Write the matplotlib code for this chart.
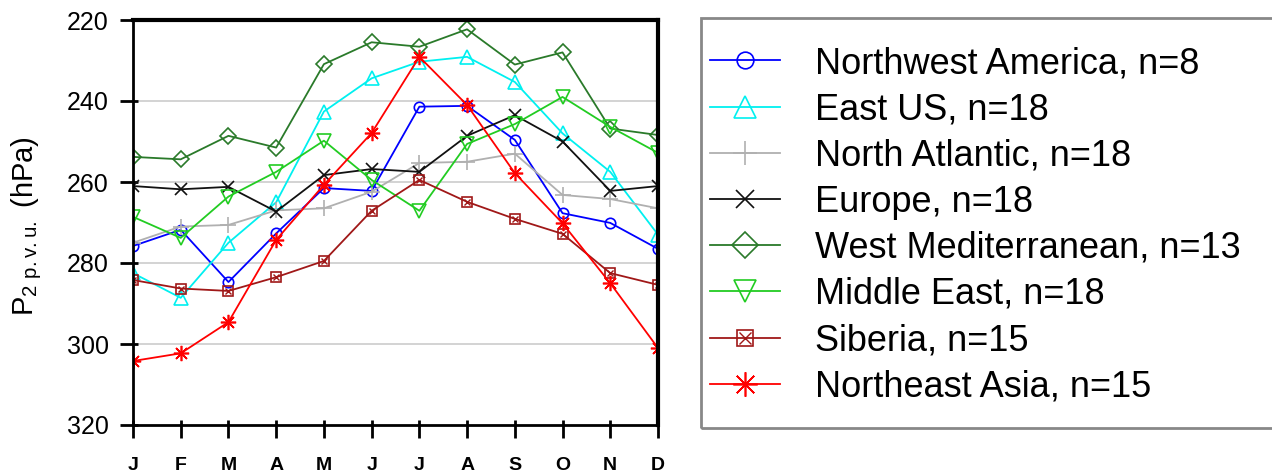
import matplotlib
matplotlib.use("Agg")
import matplotlib.pyplot as plt
from matplotlib.patches import Rectangle
from matplotlib.legend_handler import HandlerTuple

plt.rcParams["font.family"] = ["Liberation Sans", "DejaVu Sans"]
plt.rcParams["mathtext.default"] = "regular"

months = ["J", "F", "M", "A", "M", "J", "J", "A", "S", "O", "N", "D"]

nw_america = [275.8, 271.8, 284.7, 272.7, 261.5, 262.2, 241.4, 241.2, 249.6, 267.7, 270.1, 276.5]
east_us = [282.5, 288.6, 275.0, 265.0, 242.6, 234.4, 230.3, 229.1, 235.3, 248.0, 257.5, 273.0]
north_atlantic = [275.0, 271.0, 270.6, 267.0, 266.5, 262.4, 255.3, 255.0, 253.0, 263.2, 264.2, 266.5]
europe = [261.0, 261.8, 261.2, 267.3, 258.3, 256.8, 257.5, 248.6, 243.5, 250.0, 262.2, 261.0]
west_med = [253.8, 254.4, 248.6, 251.5, 230.9, 225.5, 226.6, 222.3, 231.0, 228.0, 246.8, 248.4]
middle_east = [268.6, 273.8, 263.6, 257.5, 249.8, 259.5, 267.1, 250.6, 245.7, 239.0, 246.4, 252.8]
siberia = [284.2, 286.3, 286.9, 283.5, 279.5, 267.1, 259.5, 264.9, 269.1, 272.8, 282.5, 285.4]
ne_asia = [304.2, 302.3, 294.6, 274.3, 260.7, 247.9, 229.1, 241.0, 257.8, 270.2, 285.0, 301.0]

labels = ["Northwest America, n=8", "East US, n=18", "North Atlantic, n=18",
          "Europe, n=18", "West Mediterranean, n=13", "Middle East, n=18",
          "Siberia, n=15", "Northeast Asia, n=15"]

fig = plt.figure(figsize=(12.72, 4.74), dpi=100)
ax = fig.add_axes([133 / 1272, 49 / 474, 525 / 1272, 405 / 474])
x = list(range(len(months)))

for yv in [240, 260, 280, 300]:
    ax.axhline(yv, color="#d0d0d0", lw=1.3, zorder=0)

kw = dict(lw=1.3, mfc="none", mew=1.2)
h = []
h.append(ax.plot(x, nw_america, color="#0000ff", marker="o", ms=7.5, **kw)[0])
h.append(ax.plot(x, east_us, color="#00f0f0", marker="^", ms=9.5, **kw)[0])
h.append(ax.plot(x, north_atlantic, color="#b0b0b0", marker="+", ms=11, **kw)[0])
h.append(ax.plot(x, europe, color="#111111", marker="x", ms=8.5, **kw)[0])
h.append(ax.plot(x, west_med, color="#2a7a2a", marker="D", ms=8, **kw)[0])
h.append(ax.plot(x, middle_east, color="#22cc22", marker="v", ms=9.5, **kw)[0])
sib_line = ax.plot(x, siberia, color="#a01818", marker="s", ms=7.5, **kw)[0]
sib_x = ax.plot(x, siberia, color="#a01818", marker="x", ls="none", ms=5, mew=1.0)[0]
h.append((sib_line, sib_x))
h.append(ax.plot(x, ne_asia, color="#ff0000", marker=(8, 2, 0), ms=11, **kw)[0])

ax.set_xlim(0, 11)
ax.set_ylim(320, 220)
ax.set_yticks([220, 240, 260, 280, 300, 320])
ax.set_yticks([220, 240, 260, 280, 300, 320], minor=True)
ax.yaxis.remove_overlapping_locs = False
ax.set_xticks(x)
ax.set_xticks(x, minor=True)
ax.xaxis.remove_overlapping_locs = False
ax.set_xticklabels(months, fontweight="bold", fontsize=14)
ax.tick_params(axis="y", which="major", labelsize=18, direction="out", length=9.5, width=2, pad=8)
ax.tick_params(axis="x", which="major", direction="out", length=9, width=2, pad=14)
ax.tick_params(which="minor", direction="in", length=3.5, width=2)
for s in ["left", "bottom"]:
    ax.spines[s].set_linewidth(2)
for s in ["top", "right"]:
    ax.spines[s].set_linewidth(3)
ax.set_ylabel(r"P$_{2\ p.v.u.}$ (hPa)", fontsize=21)
ax.yaxis.set_label_coords(-0.17, 0.49)

fig.patches.append(Rectangle((701 / 1272, 46 / 474), 0.6, 410 / 474, transform=fig.transFigure,
                             fill=False, edgecolor="#888888", lw=2))
fig.legend(h, labels, loc="upper left", bbox_to_anchor=(710 / 1272, 1 - 46 / 474),
           frameon=False, fontsize=26, handlelength=1.94, handletextpad=0.97,
           labelspacing=0.31, borderaxespad=0, borderpad=0, markerscale=1.6,
           handler_map={tuple: HandlerTuple(ndivide=1, pad=0)})

fig.savefig("out.png", dpi=100)
